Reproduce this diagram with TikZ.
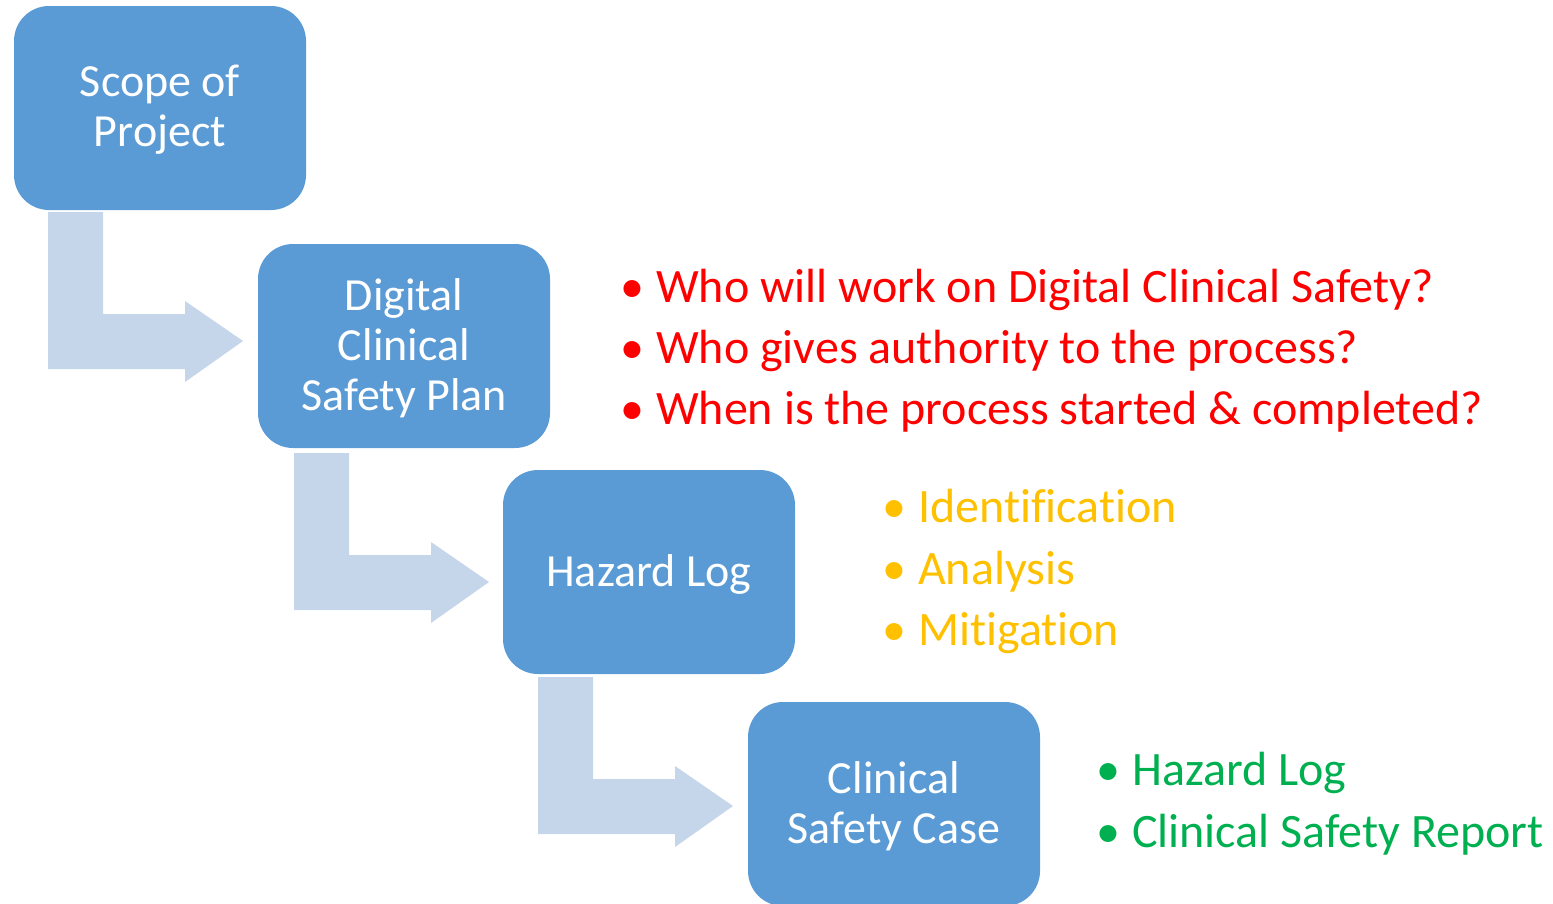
\documentclass[tikz,border=0pt]{standalone}
\usepackage{fontspec}
\setmainfont[RawFeature={-liga;-clig;-calt;-dlig}]{Carlito}
\definecolor{boxblue}{HTML}{5B9BD5}
\definecolor{arrowblue}{HTML}{C5D5EA}
\definecolor{bred}{HTML}{FF0000}
\definecolor{byellow}{HTML}{FFC000}
\definecolor{bgreen}{HTML}{00B050}
\newcommand\firstline[1]{\raisebox{0pt}[\dimexpr\height+4pt\relax]{#1}}
\tikzset{
  stagebox/.style={rounded corners=35pt, fill=boxblue, minimum width=292pt, minimum height=204pt,
    text=white, align=center, inner sep=0pt, font=\fontsize{46}{50}\selectfont},
  bullettext/.style={anchor=base west, inner sep=0pt, font=\fontsize{48}{50}\selectfont},
  bentarrow/.pic={
    \fill[arrowblue] (0,0) -- (55,0) -- (55,102) -- (137,102) -- (137,89) -- (195,129)
      -- (137,170) -- (137,157) -- (0,157) -- cycle;
  }
}
\begin{document}
\begin{tikzpicture}[x=1pt,y=-1pt]
\useasboundingbox (0,0) rectangle (1553,903);
\begin{scope}
\clip (0,0) rectangle (1553,903);
\node[stagebox] (scope) at (160,108) {\firstline{Scope of}\\Project};
\node[stagebox] (plan) at (404,346) {\firstline{Digital}\\Clinical\\Safety Plan};
\node[stagebox] (hazard) at (649,572) {\firstline{Hazard Log}};
\node[stagebox] (case) at (894,804) {\firstline{Clinical}\\Safety Case};
\pic at (48,212) {bentarrow};
\pic at (294,453) {bentarrow};
\pic at (538,677) {bentarrow};
\end{scope}
\node[bullettext, text=bred] (r1) at (620,302) {\makebox[36pt][l]{•}Who will work on Digital Clinical Safety?};
\node[bullettext, text=bred] (r2) at (620,363) {\makebox[36pt][l]{•}Who gives authority to the process?};
\node[bullettext, text=bred] (r3) at (620,424) {\makebox[36pt][l]{•}When is the process started \& completed?};
\node[bullettext, text=byellow] (y1) at (882,522) {\makebox[36pt][l]{•}Identification};
\node[bullettext, text=byellow] (y2) at (882,584) {\makebox[36pt][l]{•}Analysis};
\node[bullettext, text=byellow] (y3) at (882,645) {\makebox[36pt][l]{•}Mitigation};
\node[bullettext, text=bgreen] (g1) at (1096,785) {\makebox[36pt][l]{•}Hazard Log};
\node[bullettext, text=bgreen] (g2) at (1096,847) {\makebox[36pt][l]{•}Clinical Safety Report};
\end{tikzpicture}
\end{document}
